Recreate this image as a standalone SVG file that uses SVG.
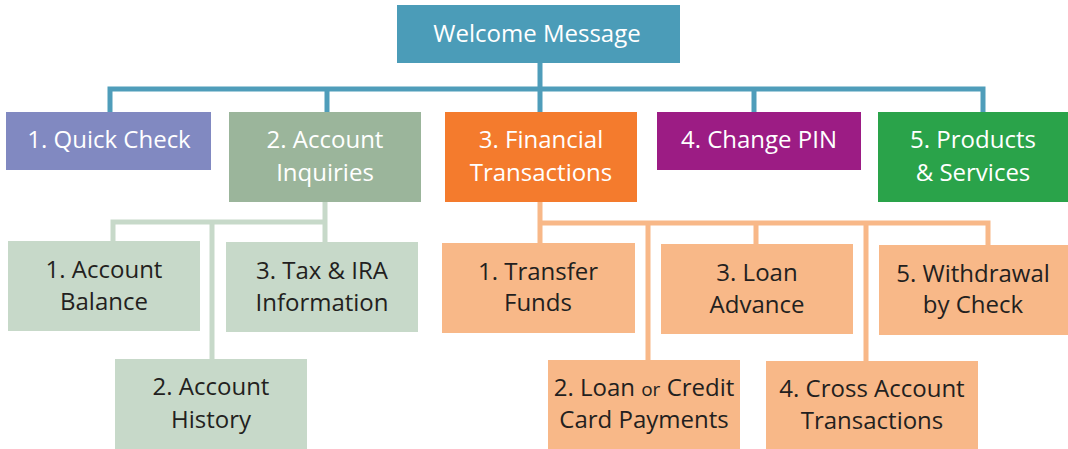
<svg xmlns="http://www.w3.org/2000/svg" width="1068" height="449" viewBox="0 0 1068 449">
<style>
text{font-family:"Open Sans","Noto Sans",sans-serif;font-size:24px;text-anchor:middle}
.w{fill:#ffffff}
.d{fill:#231f20}
.c{fill:none;stroke-width:5;stroke-linejoin:miter}
.teal{stroke:#4f9dba}
.lg{stroke:#c7d9c9}
.lo{stroke:#f8b888}
.sm{font-size:19px}
</style>
<rect width="1068" height="449" fill="#ffffff"/>
<g id="connectors">
<path class="c teal" d="M540 63V112M110 112V89H983V112M327 89V112M754 89V112"/>
<path class="c lg" d="M325 202V242M113 241V222H325M212 222V359"/>
<path class="c lo" d="M540 202V243M540 223H988V245M648 223V360M756 223V244M866 223V361"/>
</g>
<g id="welcome">
<rect x="397" y="5" width="283" height="58" fill="#4b9cb8"/>
<text class="w" x="537" y="42">Welcome Message</text>
</g>
<g id="quick-check">
<rect x="6" y="112" width="205" height="58" fill="#8189c1"/>
<text class="w" x="109" y="148">1. Quick Check</text>
</g>
<g id="account-inquiries">
<rect x="229" y="112" width="192" height="90" fill="#9bb59b"/>
<text class="w" x="325" y="148">2. Account</text>
<text class="w" x="325" y="181">Inquiries</text>
</g>
<g id="financial-transactions">
<rect x="445" y="112" width="192" height="90" fill="#f47b2d"/>
<text class="w" x="541" y="148">3. Financial</text>
<text class="w" x="541" y="181">Transactions</text>
</g>
<g id="change-pin">
<rect x="657" y="112" width="204" height="58" fill="#9c1c84"/>
<text class="w" x="759" y="148">4. Change PIN</text>
</g>
<g id="products-services">
<rect x="878" y="112" width="190" height="90" fill="#2aa34a"/>
<text class="w" x="973" y="148">5. Products</text>
<text class="w" x="973" y="181">&amp; Services</text>
</g>
<g id="account-balance">
<rect x="8" y="241" width="192" height="90" fill="#c7d9c9"/>
<text class="d" x="104" y="278">1. Account</text>
<text class="d" x="104" y="310">Balance</text>
</g>
<g id="tax-ira">
<rect x="226" y="242" width="192" height="90" fill="#c7d9c9"/>
<text class="d" x="322" y="279">3. Tax &amp; IRA</text>
<text class="d" x="322" y="311">Information</text>
</g>
<g id="account-history">
<rect x="115" y="359" width="192" height="90" fill="#c7d9c9"/>
<text class="d" x="211" y="395">2. Account</text>
<text class="d" x="211" y="428">History</text>
</g>
<g id="transfer-funds">
<rect x="442" y="243" width="193" height="90" fill="#f8b888"/>
<text class="d" x="538" y="280">1. Transfer</text>
<text class="d" x="538" y="311">Funds</text>
</g>
<g id="loan-credit">
<rect x="548" y="360" width="192" height="89" fill="#f8b888"/>
<text class="d" x="644" y="396">2. Loan <tspan class="sm">or</tspan> Credit</text>
<text class="d" x="644" y="428">Card Payments</text>
</g>
<g id="loan-advance">
<rect x="661" y="244" width="192" height="90" fill="#f8b888"/>
<text class="d" x="757" y="281">3. Loan</text>
<text class="d" x="757" y="313">Advance</text>
</g>
<g id="cross-account">
<rect x="766" y="361" width="212" height="88" fill="#f8b888"/>
<text class="d" x="872" y="397">4. Cross Account</text>
<text class="d" x="872" y="429">Transactions</text>
</g>
<g id="withdrawal">
<rect x="879" y="245" width="189" height="90" fill="#f8b888"/>
<text class="d" x="973" y="282">5. Withdrawal</text>
<text class="d" x="973" y="313">by Check</text>
</g>
</svg>
